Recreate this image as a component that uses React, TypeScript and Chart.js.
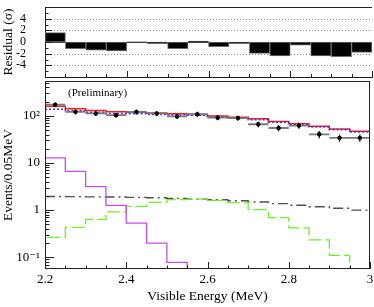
import React, { useEffect, useRef } from 'react';
import { Chart, registerables } from 'chart.js';
Chart.register(...registerables);

const SERIF = "'Liberation Serif', 'Times New Roman', 'DejaVu Serif', serif";

// ---- data ----
const binLowEdges = [2.2, 2.25, 2.3, 2.35, 2.4, 2.45, 2.5, 2.55, 2.6, 2.65, 2.7, 2.75, 2.8, 2.85, 2.9, 2.95];
const BIN_W = 0.05;
const X_MAX = 3.0;
const residualSigma = [1.6, -1.15, -1.4, -1.55, 0.05, -0.3, -1.15, 0.15, -0.8, -0.3, -1.95, -2.4, -0.55, -2.4, -2.5, -1.8];
const dataCounts = [172, 121, 112, 103, 121, 112, 97, 108, 91, 89.5, 66, 55, 62, 40.5, 34, 34];
const dataErrors = [20, 14, 13, 12, 14, 13, 12, 13, 11, 11, 9, 8, 9, 7, 6, 6];
const totalPrediction = [160, 140, 130, 122, 119, 115, 111, 107, 99, 93, 86, 76, 68, 60, 52.5, 47];
const signalPrediction = [137, 127, 119, 112, 111, 107, 104, 102, 95, 89.5, 82.5, 73, 65.5, 57.5, 50.5, 45];
const magentaEdges = [2.15, 2.2, 2.25, 2.3, 2.35, 2.4, 2.45, 2.5, 2.55];
const magentaCounts = [21, 12.8, 6.6, 3.13, 1.26, 0.527, 0.199, 0.078, 0.02];
const greenEdges = [2.15, 2.2, 2.25, 2.3, 2.35, 2.4, 2.45, 2.5, 2.55, 2.6, 2.65, 2.7, 2.75, 2.8, 2.85, 2.9, 2.95];
const greenCounts = [0.152, 0.265, 0.428, 0.637, 0.918, 1.2, 1.45, 1.66, 1.71, 1.6, 1.44, 1.02, 0.69, 0.42, 0.234, 0.11, 0.02];
const dashDotCounts = [1.94, 1.93, 1.91, 1.89, 1.86, 1.82, 1.77, 1.71, 1.66, 1.58, 1.48, 1.37, 1.27, 1.18, 1.09, 1.0];

// ---- ticks ----
const xMajorTicks = [2.2, 2.4, 2.6, 2.8, 3.0];
const xTickLabels = ['2.2', '2.4', '2.6', '2.8', '3'];
const xMinorTicks = [2.25, 2.3, 2.35, 2.45, 2.5, 2.55, 2.65, 2.7, 2.75, 2.85, 2.9, 2.95];
const residualMajorTicks = [-4, -2, 0, 2, 4];
const residualTickLabels = ['-4', '-2', '0', '2', '4'];
const residualMinorTicks = [-5, -3, -1, 1, 3, 5];
const residualDotted = [-4, -2, 2, 4];
const logMajorTicks = [0.1, 1, 10, 100];
const logTickLabels = ['10\u207B\u00B9', '1', '10', '10\u00B2'];
const logMinorTicks = [0.06, 0.07, 0.08, 0.09, 0.2, 0.3, 0.4, 0.5, 0.6, 0.7, 0.8, 0.9,
  2, 3, 4, 5, 6, 7, 8, 9, 20, 30, 40, 50, 60, 70, 80, 90, 200, 300, 400, 500];

const histo = (edges: number[], vals: number[], close?: number) => {
  const pts: { x: number; y: number }[] = edges.map((x, i) => ({ x, y: vals[i] }));
  if (close !== undefined) pts.push({ x: close, y: vals[vals.length - 1] });
  return pts;
};

type TickSpec = { axis: string; values: number[]; len: number };
const innerTicks = (specs: TickSpec[]) => ({
  id: 'innerTicks',
  afterDatasetsDraw(chart: any) {
    const { ctx, chartArea: a } = chart;
    ctx.save();
    ctx.strokeStyle = '#222';
    ctx.lineWidth = 1;
    ctx.beginPath();
    for (const s of specs) {
      const sc = chart.scales[s.axis];
      for (const v of s.values) {
        const p = sc.getPixelForValue(v);
        if (sc.isHorizontal()) {
          const x = Math.round(p) + 0.5;
          ctx.moveTo(x, a.bottom);
          ctx.lineTo(x, a.bottom - s.len);
        } else {
          const y = Math.round(p) + 0.5;
          ctx.moveTo(a.left, y);
          ctx.lineTo(a.left + s.len, y);
        }
      }
    }
    ctx.stroke();
    ctx.restore();
  },
});

const zeroPad = (s: any) => {
  s.paddingTop = 0; s.paddingBottom = 0; s.paddingLeft = 0; s.paddingRight = 0;
};

export default function App() {
  const topRef = useRef<HTMLCanvasElement>(null);
  const botRef = useRef<HTMLCanvasElement>(null);

  useEffect(() => {
    Chart.defaults.font.family = SERIF;
    const tickFont = { family: SERIF, size: 13 };

    const refLines = {
      id: 'refLines',
      beforeDatasetsDraw(chart: any) {
        const { ctx, chartArea: a, scales } = chart;
        ctx.save();
        ctx.lineWidth = 1;
        ctx.strokeStyle = '#8a8a8a';
        ctx.setLineDash([1, 2]);
        for (const v of residualDotted) {
          const y = Math.round(scales.y.getPixelForValue(v)) + 0.5;
          ctx.beginPath(); ctx.moveTo(a.left, y); ctx.lineTo(a.right, y); ctx.stroke();
        }
        ctx.setLineDash([]);
        ctx.strokeStyle = '#444';
        const y0 = Math.round(scales.y.getPixelForValue(0)) + 0.5;
        ctx.beginPath(); ctx.moveTo(a.left, y0); ctx.lineTo(a.right, y0); ctx.stroke();
        ctx.strokeStyle = '#222';
        ctx.beginPath(); ctx.moveTo(a.left, a.top + 0.5); ctx.lineTo(a.right, a.top + 0.5); ctx.stroke();
        ctx.restore();
      },
    };

    const top = new Chart(topRef.current!, {
      type: 'bar',
      data: {
        datasets: [{
          data: binLowEdges.map((x, i) => ({ x: x + BIN_W / 2, y: residualSigma[i] })),
          backgroundColor: '#000',
          borderColor: '#6e6e6e',
          borderWidth: 1,
          borderSkipped: false,
          barPercentage: 1,
          categoryPercentage: 1,
        } as any],
      },
      options: {
        animation: false,
        responsive: false,
        maintainAspectRatio: false,
        layout: { padding: { left: 0, right: 2, top: 7, bottom: 0 } },
        plugins: { legend: { display: false }, tooltip: { enabled: false } },
        scales: {
          x: {
            type: 'linear', min: 2.2, max: X_MAX, offset: false,
            grid: { display: false, drawTicks: false },
            ticks: { display: false },
            border: { display: true, color: '#222', width: 1 },
            afterFit: (s: any) => { s.height = 3; zeroPad(s); },
          },
          y: {
            type: 'linear', min: -6, max: 6,
            grid: { display: false, drawTicks: false },
            border: { display: true, color: '#222', width: 1 },
            afterBuildTicks: (s: any) => { s.ticks = residualMajorTicks.map((v) => ({ value: v })); },
            ticks: {
              autoSkip: false,
              font: { family: SERIF, size: 12 },
              color: '#000',
              padding: 19,
              callback: (_v: any, i: number) => residualTickLabels[i],
            },
            title: { display: true, text: 'Residual (\u03C3)', font: { family: SERIF, size: 13.5 }, color: '#000', padding: 0 },
            afterFit: (s: any) => { s.width = 45; zeroPad(s); },
          },
        },
      } as any,
      plugins: [refLines, innerTicks([
        { axis: 'x', values: xMinorTicks, len: 3 },
        { axis: 'x', values: xMajorTicks, len: 6 },
        { axis: 'y', values: residualMinorTicks, len: 3.5 },
        { axis: 'y', values: residualMajorTicks, len: 7 },
      ])],
    });

    const frame = {
      id: 'frame',
      afterDraw(chart: any) {
        const { ctx, chartArea: a } = chart;
        ctx.save();
        ctx.strokeStyle = '#222';
        ctx.lineWidth = 1;
        ctx.strokeRect(Math.round(a.left) + 0.5, Math.round(a.top) + 0.5, Math.round(a.right - a.left) - 1, Math.round(a.bottom - a.top) - 1);
        ctx.fillStyle = '#000';
        ctx.font = `11px ${SERIF}`;
        ctx.textBaseline = 'middle';
        ctx.textAlign = 'left';
        ctx.fillText('(Preliminary)', 68, 16);
        ctx.restore();
      },
    };

    const centers = binLowEdges.map((x) => x + BIN_W / 2);
    const yErr: any[] = [];
    const xErr: any[] = [];
    centers.forEach((c, i) => {
      yErr.push({ x: c, y: dataCounts[i] - dataErrors[i] }, { x: c, y: dataCounts[i] + dataErrors[i] }, { x: c, y: null });
      xErr.push({ x: binLowEdges[i], y: dataCounts[i] }, { x: binLowEdges[i] + BIN_W, y: dataCounts[i] }, { x: c, y: null });
    });

    const STEP = 'before';
    const bot = new Chart(botRef.current!, {
      type: 'line',
      data: {
        datasets: [
          { data: centers.map((c, i) => ({ x: c, y: dataCounts[i] })), showLine: false, pointRadius: 2.2, pointStyle: 'circle', pointBackgroundColor: '#000', pointBorderWidth: 0 },
          { data: yErr, borderColor: '#000', borderWidth: 1.2, pointRadius: 0, spanGaps: false },
          { data: xErr, borderColor: '#7a7a7a', borderWidth: 1.8, pointRadius: 0, spanGaps: false },
          { data: histo(binLowEdges, signalPrediction, X_MAX), stepped: STEP, borderColor: '#2b3cff', borderWidth: 1.5, borderDash: [2, 2], pointRadius: 0 },
          { data: histo(binLowEdges, totalPrediction, X_MAX), stepped: STEP, borderColor: '#ff1a1a', borderWidth: 1.5, pointRadius: 0 },
          { data: histo(magentaEdges, magentaCounts), stepped: STEP, borderColor: '#c64cf0', borderWidth: 1.3, pointRadius: 0 },
          { data: histo(greenEdges, greenCounts), stepped: STEP, borderColor: '#6cf02a', borderWidth: 1.3, borderDash: [13, 4], pointRadius: 0 },
          { data: histo(binLowEdges, dashDotCounts, X_MAX), stepped: STEP, borderColor: '#505050', borderWidth: 1.4, borderDash: [10, 4, 2, 4], pointRadius: 0 },
        ] as any,
      },
      options: {
        animation: false,
        responsive: false,
        maintainAspectRatio: false,
        layout: { padding: { left: 0, right: 2, top: 0, bottom: 0 } },
        plugins: { legend: { display: false }, tooltip: { enabled: false } },
        scales: {
          x: {
            type: 'linear', min: 2.2, max: X_MAX,
            grid: { display: false, drawTicks: false },
            border: { display: false },
            afterBuildTicks: (s: any) => { s.ticks = xMajorTicks.map((v) => ({ value: v })); },
            ticks: {
              autoSkip: false, maxRotation: 0,
              font: tickFont, color: '#000', padding: 3,
              callback: (_v: any, i: number) => xTickLabels[i],
            },
            title: { display: true, text: 'Visible Energy (MeV)', font: { family: SERIF, size: 13.5 }, color: '#000', padding: { top: 0, bottom: 2 } },
            afterFit: (s: any) => { s.height = 38; zeroPad(s); },
          },
          y: {
            type: 'logarithmic', min: 0.0563, max: 546,
            grid: { display: false, drawTicks: false },
            border: { display: false },
            afterBuildTicks: (s: any) => { s.ticks = logMajorTicks.map((v) => ({ value: v })); },
            ticks: {
              autoSkip: false,
              font: tickFont, color: '#000', padding: 5,
              callback: (_v: any, i: number) => logTickLabels[i],
            },
            title: { display: true, text: 'Events/0.05MeV', font: { family: SERIF, size: 13.5 }, color: '#000', padding: 0 },
            afterFit: (s: any) => { s.width = 45; zeroPad(s); },
          },
        },
      } as any,
      plugins: [frame, innerTicks([
        { axis: 'x', values: xMinorTicks, len: 3.5 },
        { axis: 'x', values: xMajorTicks, len: 7 },
        { axis: 'y', values: logMinorTicks, len: 4.5 },
        { axis: 'y', values: logMajorTicks, len: 9 },
      ])],
    });

    return () => { top.destroy(); bot.destroy(); };
  }, []);

  return (
    <div style={{ position: 'absolute', left: 0, top: 0, width: 374, height: 307, background: '#fff' }}>
      <canvas ref={topRef} width={374} height={80} style={{ position: 'absolute', left: 0, top: 0, width: 374, height: 80 }} />
      <canvas ref={botRef} width={374} height={230} style={{ position: 'absolute', left: 0, top: 77, width: 374, height: 230 }} />
    </div>
  );
}
